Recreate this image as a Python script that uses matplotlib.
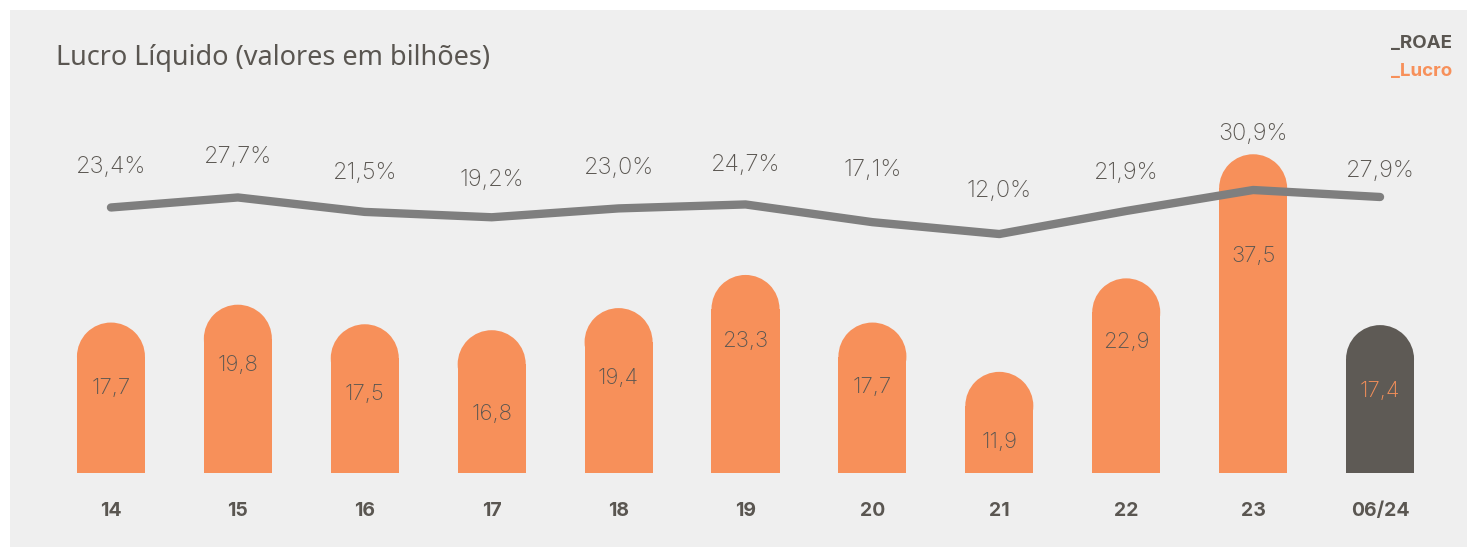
import matplotlib

matplotlib.use("Agg")

import matplotlib.pyplot as plt
from matplotlib.patches import Ellipse, Rectangle

# data
years = ["14", "15", "16", "17", "18", "19", "20", "21", "22", "23", "06/24"]
lucro = [17.7, 19.8, 17.5, 16.8, 19.4, 23.3, 17.7, 11.9, 22.9, 37.5, 17.4]
roae = [23.4, 27.7, 21.5, 19.2, 23.0, 24.7, 17.1, 12.0, 21.9, 30.9, 27.9]

# label placement (pixels)
lucro_label_drop = [65, 60, 70, 84, 70, 66, 64, 70, 64, 102, 66]
roae_label_rise = [40, 40, 39, 37, 40, 39, 52, 43, 38, 56, 26]

ORANGE = "#F7905A"
DARK = "#5E5A55"
LINE = "#7F7F7F"
BG = "#EFEFEF"
TEXT = "#5A5651"

W, H, DPI = 1467, 547, 100
fig = plt.figure(figsize=(W / DPI, H / DPI), dpi=DPI, facecolor="white")
fig.patches.append(Rectangle((10 / W, 0), 1, 537 / H, transform=fig.transFigure,
                             facecolor=BG, edgecolor="none", zorder=-10))

ax_left, ax_bottom = 47.5 / W, 74 / H
ax_w, ax_h = 1396 / W, 463 / H
ax = fig.add_axes([ax_left, ax_bottom, ax_w, ax_h])
ax.set_facecolor("none")
ax.set_xlim(-0.5, len(years) - 0.5)
px_per_unit = 8.5
ax.set_ylim(0, 463 / px_per_unit)
for s in ax.spines.values():
    s.set_visible(False)
ax.set_yticks([])

bar_w = 68 / 126.9
radius_y = 34 / px_per_unit
colors = [ORANGE] * (len(years) - 1) + [DARK]
label_colors = [TEXT] * (len(years) - 1) + [ORANGE]
xs = list(range(len(years)))
ax.bar(xs, [v - radius_y for v in lucro], width=bar_w, color=colors, linewidth=0, zorder=2)
for x, v, c in zip(xs, lucro, colors):
    ax.add_patch(Ellipse((x, v - radius_y), bar_w, 2 * radius_y, facecolor=c,
                         edgecolor="none", zorder=2))

for x, v, drop, c in zip(xs, lucro, lucro_label_drop, label_colors):
    ax.annotate(f"{v:.1f}".replace(".", ","), (x, v), xytext=(0, -drop * 0.72),
                textcoords="offset points", ha="center", va="center",
                fontsize=16, color=c, family="Inter", fontweight="light", zorder=5)

ax.set_xticks(xs)
ax.set_xticklabels(years, fontsize=14, fontweight="bold", color=TEXT, family="Inter")
ax.tick_params(axis="x", length=0, pad=21)

# ROAE line on twin axis
ax2 = ax.twinx()
roae_px = 2.33
ax2.set_ylim(-211 / roae_px, (463 - 211) / roae_px)
ax2.set_xlim(ax.get_xlim())
ax2.axis("off")
ax2.plot(xs, roae, color=LINE, linewidth=6, solid_capstyle="round",
         solid_joinstyle="round", zorder=3)
for x, v, rise in zip(xs, roae, roae_label_rise):
    ax2.annotate(f"{v:.1f}%".replace(".", ","), (x, v), xytext=(0, rise * 0.72),
                 textcoords="offset points", ha="center", va="center",
                 fontsize=17, color=TEXT, family="Inter", fontweight="light")

fig.text(56 / W, 1 - 58 / H, "Lucro Líquido (valores em bilhões)", ha="left", va="center",
         fontsize=19.5, color=TEXT, family="Noto Sans")
fig.text(1452 / W, 1 - 43 / H, "_ROAE", ha="right", va="center", fontsize=13.5,
         fontweight="bold", color=TEXT, family="Inter")
fig.text(1452 / W, 1 - 71 / H, "_Lucro", ha="right", va="center", fontsize=13.5,
         fontweight="bold", color=ORANGE, family="Inter")

fig.savefig("out.png", dpi=DPI, facecolor=fig.get_facecolor())
